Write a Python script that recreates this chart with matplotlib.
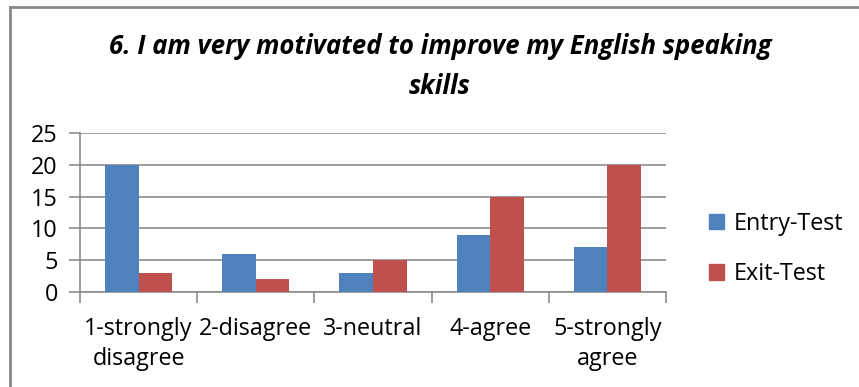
import numpy as np
import matplotlib.pyplot as plt
from matplotlib.lines import Line2D
from matplotlib.patches import Patch

categories = ['1-strongly\ndisagree', '2-disagree', '3-neutral', '4-agree', '5-strongly\nagree']
entry_test = [20, 6, 3, 9, 7]
exit_test = [3, 2, 5, 15, 20]
yticks = [0, 5, 10, 15, 20, 25]

plt.rcParams['font.family'] = ['Open Sans', 'DejaVu Sans']

W, H = 859, 387
fig = plt.figure(figsize=(W / 100, H / 100), dpi=100)

# plot area in pixel coordinates
left, right, top, bottom = 80, 666, 133, 292
ax = fig.add_axes([left / W, 1 - bottom / H, (right - left) / W, (bottom - top) / H])

x = np.arange(len(categories))
bw = 0.286
blue = '#4F81BD'
red = '#C0504D'
grid = '#8c8c8c'
fs = 16.8

ax.bar(x - bw / 2, entry_test, bw, color=blue, zorder=3)
ax.bar(x + bw / 2, exit_test, bw, color=red, zorder=3)

ax.set_xlim(-0.5, len(categories) - 0.5)
ax.set_ylim(0, 25)
ax.set_yticks(yticks)
ax.set_yticklabels([str(v) for v in yticks], fontsize=fs)
ax.yaxis.grid(True, color=grid, linewidth=1.2, zorder=0)

# category boundary ticks on the x axis
ax.set_xticks(np.arange(len(categories) + 1) - 0.5)
ax.set_xticklabels([])
ax.tick_params(axis='x', length=8, width=1.2, color=grid)
ax.tick_params(axis='y', length=8, width=1.2, color=grid, pad=8)
for i, lab in enumerate(categories):
    ax.text(i, -0.16, lab, transform=ax.get_xaxis_transform(), ha='center', va='top',
            fontsize=fs, linespacing=1.3)

for s in ['top', 'right']:
    ax.spines[s].set_visible(False)
ax.spines['left'].set_color(grid)
ax.spines['bottom'].set_color(grid)
ax.spines['left'].set_linewidth(1.2)
ax.spines['bottom'].set_linewidth(1.2)

tfs = 18.5
fig.text(440 / W, 1 - 46 / H, '6. I am very motivated to improve my English speaking',
         ha='center', va='center', fontsize=tfs, fontweight='bold', fontstyle='italic')
fig.text(440 / W, 1 - 86 / H, 'skills',
         ha='center', va='center', fontsize=tfs, fontweight='bold', fontstyle='italic')

handles = [Patch(color=blue, label='Entry-Test'), Patch(color=red, label='Exit-Test')]
fig.legend(handles=handles, loc='center left', bbox_to_anchor=(688 / W, 1 - 249 / H),
           frameon=False, fontsize=fs, handlelength=0.65, handleheight=0.65,
           handletextpad=0.4, labelspacing=1.15)

# chart frame
fig.add_artist(Line2D([10 / W, 1], [1 - 7 / H] * 2, color='#888888', linewidth=2))
fig.add_artist(Line2D([10 / W] * 2, [0, 1 - 7 / H], color='#888888', linewidth=2))

fig.savefig('out.png', dpi=100)
